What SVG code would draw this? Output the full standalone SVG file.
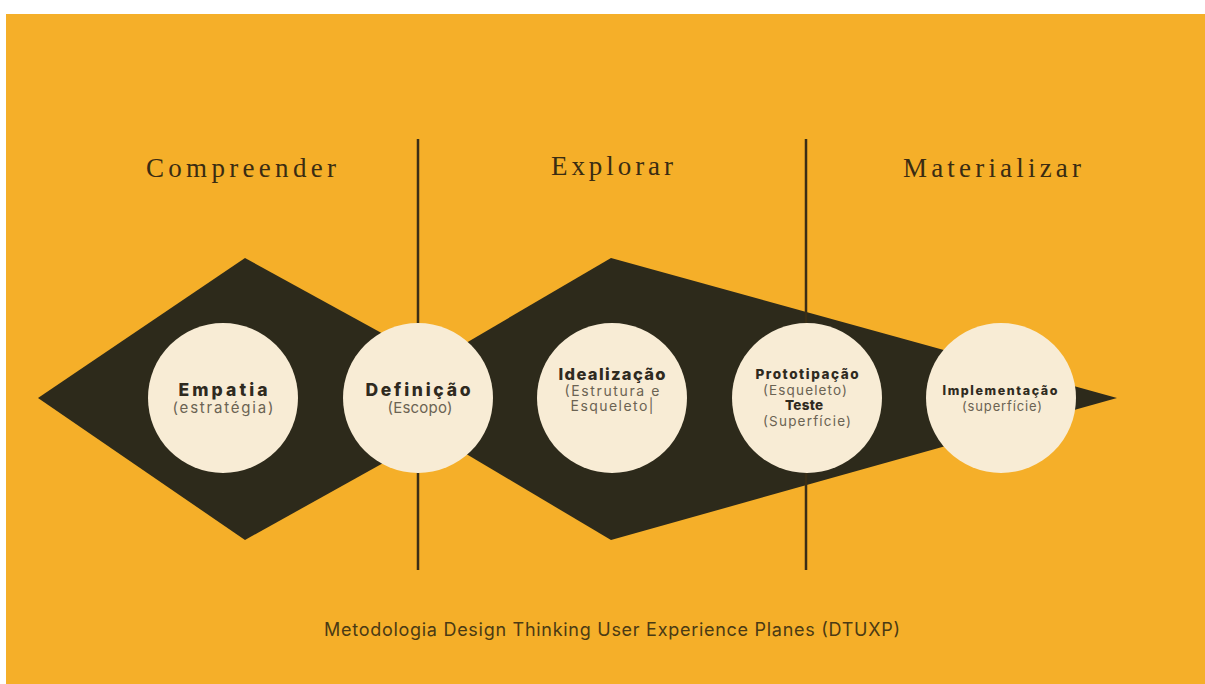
<svg xmlns="http://www.w3.org/2000/svg" width="1205" height="684" viewBox="0 0 1205 684">
<style>
.bg{fill:#F5AF29}
.shape{fill:#2D2A1B}
.circ{fill:#F8ECD5}
.div{stroke:#3A2E16;stroke-width:2.5;fill:none}
.phase{font-family:"Liberation Serif","DejaVu Serif",serif;font-size:27px;fill:#3A2C12;text-anchor:middle}
.t{font-family:Inter,"Open Sans","Liberation Sans",sans-serif;font-weight:800;fill:#2F2A1F;text-anchor:middle}
.s{font-family:Inter,"Open Sans","Liberation Sans",sans-serif;font-weight:400;fill:#6B6353;text-anchor:middle}
.cap{font-family:Inter,"Open Sans","Liberation Sans",sans-serif;font-size:18px;fill:#4A3A14;text-anchor:middle}
</style>
<rect width="1205" height="684" fill="#FFFFFF"/>
<rect class="bg" x="6" y="14" width="1199" height="670"/>
<g id="shapes">
<polygon class="shape" points="38,398 245,258 500,398 245,540"/>
<polygon class="shape" points="372,398 611,258 1117,398 611,540"/>
</g>
<g id="connectors">
<line class="div" x1="418" y1="139" x2="418" y2="570"/>
<line class="div" x1="806" y1="139" x2="806" y2="570"/>
</g>
<g id="phase-compreender"><text class="phase" x="241" y="177" textLength="190" lengthAdjust="spacing">Compreender</text></g>
<g id="phase-explorar"><text class="phase" x="612" y="175" textLength="122" lengthAdjust="spacing">Explorar</text></g>
<g id="phase-materializar"><text class="phase" x="992" y="177" textLength="178" lengthAdjust="spacing">Materializar</text></g>
<g id="empatia">
<circle class="circ" cx="223" cy="398" r="75"/>
<text class="t" x="223" y="396" font-size="17.5" textLength="89" lengthAdjust="spacing">Empatia</text>
<text class="s" x="223" y="413" font-size="15" textLength="101" lengthAdjust="spacing">(estratégia)</text>
</g>
<g id="definicao">
<circle class="circ" cx="418" cy="398" r="75"/>
<text class="t" x="418" y="396" font-size="17.5" textLength="105" lengthAdjust="spacing">Definição</text>
<text class="s" x="420" y="413" font-size="15" textLength="65" lengthAdjust="spacing">(Escopo)</text>
</g>
<g id="idealizacao">
<circle class="circ" cx="612" cy="398" r="75"/>
<text class="t" x="612" y="380" font-size="16.5" textLength="107" lengthAdjust="spacing">Idealização</text>
<text class="s" x="612" y="396" font-size="14" textLength="95" lengthAdjust="spacing">(Estrutura e</text>
<text class="s" x="612" y="411" font-size="14" textLength="83" lengthAdjust="spacing">Esqueleto|</text>
</g>
<g id="prototipacao">
<circle class="circ" cx="807" cy="398" r="75"/>
<text class="t" x="807" y="379" font-size="13.5" textLength="103" lengthAdjust="spacing">Prototipação</text>
<text class="s" x="805" y="395" font-size="13.5" textLength="84" lengthAdjust="spacing">(Esqueleto)</text>
<text class="t" x="804" y="410" font-size="13.5" textLength="38" lengthAdjust="spacing">Teste</text>
<text class="s" x="807" y="426" font-size="13.5" textLength="88" lengthAdjust="spacing">(Superfície)</text>
</g>
<g id="implementacao">
<circle class="circ" cx="1001" cy="398" r="75"/>
<text class="t" x="1000" y="395" font-size="12.5" textLength="115" lengthAdjust="spacing">Implementação</text>
<text class="s" x="1002" y="411" font-size="13" textLength="80" lengthAdjust="spacing">(superfície)</text>
</g>
<g id="caption"><text class="cap" x="612" y="636" textLength="576" lengthAdjust="spacing">Metodologia Design Thinking User Experience Planes (DTUXP)</text></g>
</svg>
